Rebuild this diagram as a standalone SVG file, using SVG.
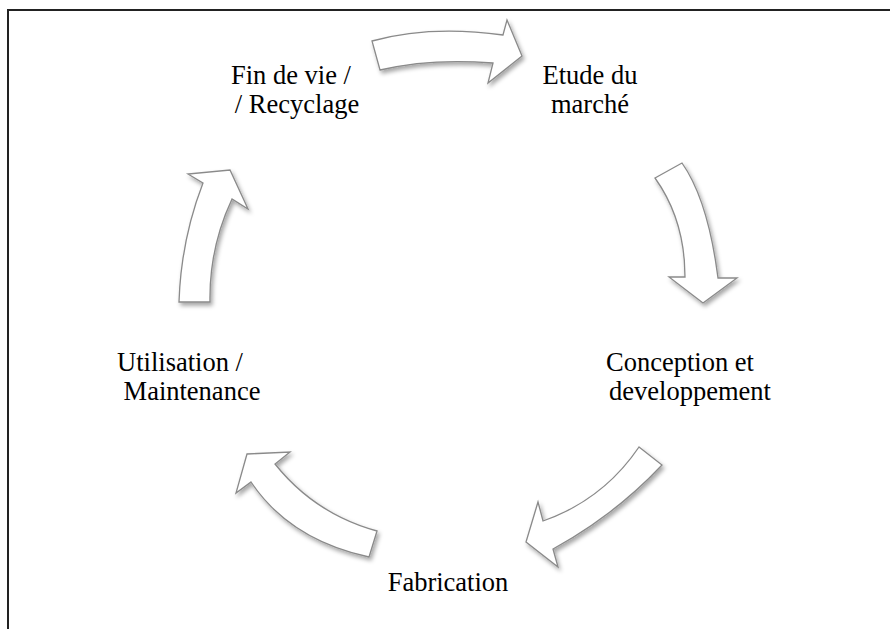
<svg xmlns="http://www.w3.org/2000/svg" width="890" height="629" viewBox="0 0 890 629">
<style>
.lbl{font-family:"Liberation Serif","Times New Roman",serif;font-size:26.5px;fill:#000;text-anchor:middle}
.arr{fill:#fff;stroke:#8a8a8a;stroke-width:1.3;stroke-linejoin:miter;filter:url(#sh)}
.frame{fill:none;stroke:#222;stroke-width:2}
</style>
<defs>
<filter id="sh" x="-20%" y="-20%" width="150%" height="150%">
<feDropShadow dx="2" dy="3" stdDeviation="2" flood-color="#000" flood-opacity="0.35"/>
</filter>
</defs>
<rect width="890" height="629" fill="#fff"/>
<path class="frame" d="M8,629 L8,10 L890,10"/>
<g id="connectors">
<path class="arr" d="M372,41 Q430,25 503,35 L507,20 L522,56 L488,83 L493,63 Q430,58 380,70 Z"/>
<path class="arr" d="M655,178 L682,163 Q708,200 718,278 L737,278 L703,303 L669,277 L685,277 Q685,220 655,178 Z"/>
<path class="arr" d="M639,447 L662,465 Q615,515 553,549 L558,567 L526,542 L538,502 L543,521 Q603,500 639,447 Z"/>
<path class="arr" d="M377,531 L369,557 Q290,540 251,482 L236,493 L247,454 L290,452 L275,464 Q315,514 377,531 Z"/>
<path class="arr" d="M179,302 L210,302 Q209,248 232,199 L248,209 L230,170 L188,174 L203,183 Q181,240 179,302 Z"/>
</g>
<g id="node-fin">
<text class="lbl" x="291" y="84">Fin de vie /</text>
<text class="lbl" x="297" y="113">/ Recyclage</text>
</g>
<g id="node-etude">
<text class="lbl" x="590" y="84">Etude du</text>
<text class="lbl" x="590" y="113">marché</text>
</g>
<g id="node-conception">
<text class="lbl" x="680" y="371">Conception et</text>
<text class="lbl" x="690" y="400">developpement</text>
</g>
<g id="node-fabrication">
<text class="lbl" x="448" y="591">Fabrication</text>
</g>
<g id="node-utilisation">
<text class="lbl" x="180" y="371">Utilisation /</text>
<text class="lbl" x="192" y="400">Maintenance</text>
</g>
</svg>
